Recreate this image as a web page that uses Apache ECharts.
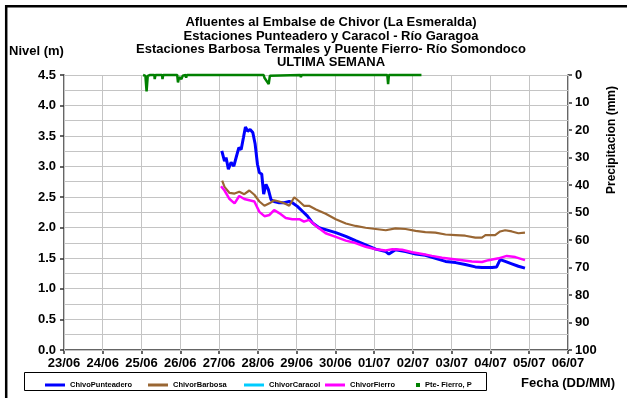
<!DOCTYPE html>
<html>
<head>
<meta charset="utf-8">
<script src="https://cdn.jsdelivr.net/npm/echarts@6/dist/echarts.min.js"></script>
<style>
  html, body { margin: 0; padding: 0; background: #fff; }
  #chart { width: 627px; height: 398px; }
</style>
</head>
<body>
<div id="chart"></div>
<script>
// Day labels along the time axis (x value = days since 23/06 00:00)
const dayLabels = ['23/06', '24/06', '25/06', '26/06', '27/06', '28/06', '29/06',
                   '30/06', '01/07', '02/07', '03/07', '04/07', '05/07', '06/07'];

// Nivel (m) per station, as [day, level]
const punteadero = [
  [4.07, 3.26], [4.14, 3.09], [4.18, 3.15], [4.24, 2.96], [4.31, 3.07], [4.38, 3.01],
  [4.44, 3.15], [4.51, 3.31], [4.57, 3.28], [4.63, 3.48], [4.68, 3.65], [4.74, 3.58],
  [4.80, 3.61], [4.87, 3.56], [4.93, 3.37], [4.99, 3.04], [5.04, 2.90], [5.10, 2.88],
  [5.15, 2.55], [5.21, 2.71], [5.27, 2.63], [5.34, 2.46], [5.42, 2.43], [5.55, 2.41],
  [5.68, 2.41], [5.81, 2.43], [5.89, 2.41], [6.02, 2.35], [6.15, 2.27], [6.28, 2.19],
  [6.41, 2.08], [6.58, 2.00], [6.75, 1.97], [7.01, 1.92], [7.27, 1.86], [7.52, 1.79],
  [7.78, 1.72], [8.04, 1.65], [8.30, 1.61], [8.38, 1.57], [8.55, 1.64], [8.81, 1.61],
  [9.07, 1.57], [9.32, 1.55], [9.58, 1.50], [9.84, 1.45], [10.10, 1.43], [10.35, 1.40],
  [10.61, 1.36], [10.78, 1.35], [11.04, 1.35], [11.16, 1.36], [11.25, 1.48], [11.38, 1.45],
  [11.55, 1.41], [11.72, 1.37], [11.89, 1.34]
];
const barbosa = [
  [4.08, 2.77], [4.14, 2.67], [4.27, 2.57], [4.40, 2.56], [4.52, 2.59], [4.65, 2.55],
  [4.78, 2.61], [4.91, 2.54], [5.04, 2.43], [5.17, 2.36], [5.30, 2.40], [5.42, 2.45],
  [5.55, 2.43], [5.68, 2.40], [5.81, 2.36], [5.94, 2.50], [6.07, 2.43], [6.19, 2.36],
  [6.32, 2.36], [6.50, 2.30], [6.75, 2.23], [7.01, 2.14], [7.27, 2.07], [7.52, 2.03],
  [7.78, 2.00], [8.04, 1.98], [8.30, 1.96], [8.55, 1.99], [8.81, 1.98], [9.07, 1.95],
  [9.32, 1.93], [9.58, 1.92], [9.84, 1.89], [10.10, 1.88], [10.35, 1.87], [10.61, 1.84],
  [10.78, 1.84], [10.87, 1.88], [11.12, 1.88], [11.25, 1.94], [11.38, 1.96], [11.55, 1.94],
  [11.72, 1.91], [11.89, 1.92]
];
const caracol = [];
const fierro = [
  [4.05, 2.68], [4.14, 2.61], [4.27, 2.47], [4.40, 2.40], [4.52, 2.52], [4.65, 2.47],
  [4.78, 2.45], [4.91, 2.43], [5.04, 2.26], [5.17, 2.19], [5.30, 2.21], [5.42, 2.29],
  [5.55, 2.24], [5.72, 2.16], [5.89, 2.14], [6.07, 2.14], [6.19, 2.10], [6.32, 2.13],
  [6.50, 2.03], [6.75, 1.91], [7.01, 1.85], [7.27, 1.79], [7.52, 1.75], [7.78, 1.69],
  [8.04, 1.65], [8.30, 1.63], [8.47, 1.65], [8.72, 1.64], [8.98, 1.60], [9.24, 1.57],
  [9.49, 1.54], [9.75, 1.51], [10.01, 1.49], [10.27, 1.47], [10.52, 1.45], [10.78, 1.44],
  [10.95, 1.47], [11.21, 1.50], [11.42, 1.54], [11.64, 1.52], [11.89, 1.47]
];

// Precipitación Puente Fierro (mm), as [day, mm]
const fierroPrecip = [
  [2.04, 0], [2.10, 0.3], [2.13, 6.0], [2.16, 0.3], [2.22, 0], [2.33, 0], [2.34, 1.5],
  [2.36, 0], [2.53, 0], [2.54, 1.5], [2.56, 0], [2.92, 0], [2.94, 2.7], [2.97, 0.8],
  [3.01, 0.5], [3.03, 1.5], [3.06, 0.3], [3.14, 0], [3.15, 1.0], [3.17, 0], [3.74, 0],
  [3.75, 0.5], [3.77, 0], [3.92, 0], [3.93, 0.5], [3.95, 0], [5.15, 0], [5.17, 1.0],
  [5.22, 0.3], [5.28, 3.3], [5.31, 0.3], [5.36, 0], [6.10, 0], [6.11, 0.8], [6.13, 0],
  [8.34, 0], [8.36, 3.3], [8.38, 0], [9.22, 0]
];

// Grid positions (level axis every 0.25 m, one line per day)
const levelGrid = [0, 0.25, 0.5, 0.75, 1, 1.25, 1.5, 1.75, 2, 2.25, 2.5, 2.75, 3, 3.25, 3.5, 3.75, 4, 4.25, 4.5];

const FONT = '"Liberation Sans", Arial, sans-serif';
const GRID_COLOR = '#c4c4c4';
const chart = echarts.init(document.getElementById('chart'), null, { renderer: 'canvas' });

const legendBase = {
  top: 376, itemWidth: 20, itemHeight: 3, itemGap: 4,
  textStyle: { fontFamily: FONT, fontSize: 7.5, fontWeight: 'bold', color: '#000' }
};

const decorations = [
  // outer frame (left and top edges)
  { type: 'polyline', silent: true, z: 50,
    shape: { points: [[6.2, 398], [6.2, 6.2], [627, 6.2]] },
    style: { fill: null, stroke: '#000', lineWidth: 2.5 } },
  // legend box
  { type: 'rect', shape: { x: 24.5, y: 372.5, width: 462, height: 18 }, silent: true, z: -1,
    style: { fill: 'transparent', stroke: '#000', lineWidth: 1 } },
  { type: 'text', left: 9, top: 45, silent: true,
    style: { text: 'Nivel (m)', font: 'bold 13px ' + FONT, fill: '#000' } },
  { type: 'text', x: 612, y: 140, rotation: Math.PI / 2, silent: true,
    style: { text: 'Precipitacion (mm)', font: 'bold 12px ' + FONT, fill: '#000',
             textAlign: 'center', textVerticalAlign: 'middle' } },
  { type: 'text', right: 12, top: 377, silent: true,
    style: { text: 'Fecha (DD/MM)', font: 'bold 13px ' + FONT, fill: '#000' } }
];

chart.setOption({
  animation: false,
  backgroundColor: '#fff',
  title: {
    text: 'Afluentes al Embalse de Chivor (La Esmeralda)\nEstaciones Punteadero y Caracol - Río Garagoa\n' +
          'Estaciones Barbosa Termales y Puente Fierro- Río Somondoco\nULTIMA SEMANA',
    left: 331, top: 16, textAlign: 'center', padding: 0,
    textStyle: { fontFamily: FONT, fontSize: 13, fontWeight: 'bold', color: '#000', lineHeight: 13.3 }
  },
  legend: [
    Object.assign({ left: 40, data: [{ name: 'ChivoPunteadero', icon: 'rect' }] }, legendBase),
    Object.assign({ left: 143, data: [{ name: 'ChivorBarbosa', icon: 'rect' }] }, legendBase),
    Object.assign({ left: 239, data: [{ name: 'ChivorCaracol', icon: 'rect' }] }, legendBase),
    Object.assign({ left: 320, data: [{ name: 'ChivorFierro', icon: 'rect' }] }, legendBase),
    Object.assign({}, legendBase, { left: 411, itemWidth: 4, itemHeight: 4, itemGap: 9,
      data: [{ name: 'Pte- Fierro, P', icon: 'rect' }] })
  ],
  grid: { left: 64, top: 75, right: 59, bottom: 48, containLabel: false },
  xAxis: {
    type: 'value', min: 0, max: 13, interval: 1,
    axisLine: { show: true, lineStyle: { color: '#333', width: 1.5 } },
    axisTick: { show: true, length: 4, lineStyle: { color: '#333', width: 1.5 } },
    axisLabel: {
      margin: 7, fontFamily: FONT, fontSize: 13, fontWeight: 'bold', color: '#000',
      formatter: v => dayLabels[Math.round(v)]
    },
    splitLine: { show: false }
  },
  yAxis: [
    {
      type: 'value', min: 0, max: 4.5, interval: 0.5,
      axisLine: { show: true, lineStyle: { color: '#333', width: 1.5 } },
      axisTick: { show: true, length: 4, lineStyle: { color: '#333', width: 1.5 } },
      axisLabel: {
        margin: 8, fontFamily: FONT, fontSize: 13, fontWeight: 'bold', color: '#000',
        formatter: v => v.toFixed(1)
      },
      splitLine: { show: false }
    },
    {
      type: 'value', min: 0, max: 100, interval: 10, inverse: true, position: 'right',
      axisLine: { show: true, lineStyle: { color: '#333', width: 1.5 } },
      axisTick: { show: true, length: 4, lineStyle: { color: '#333', width: 1.5 } },
      axisLabel: { margin: 7, fontFamily: FONT, fontSize: 13, fontWeight: 'bold', color: '#000' },
      splitLine: { show: false }
    }
  ],
  series: [
    { name: 'ChivoPunteadero', type: 'line', yAxisIndex: 0, data: punteadero, showSymbol: false,
      color: '#0000ff', lineStyle: { width: 3, color: '#0000ff' } },
    { name: 'ChivorBarbosa', type: 'line', yAxisIndex: 0, data: barbosa, showSymbol: false,
      color: '#996633', lineStyle: { width: 2.2, color: '#996633' } },
    { name: 'ChivorCaracol', type: 'line', yAxisIndex: 0, data: caracol, showSymbol: false,
      color: '#00ccff', lineStyle: { width: 2, color: '#00ccff' } },
    { name: 'ChivorFierro', type: 'line', yAxisIndex: 0, data: fierro, showSymbol: false,
      color: '#ff00ff', lineStyle: { width: 2.5, color: '#ff00ff' } },
    { name: 'Pte- Fierro, P', type: 'line', yAxisIndex: 1, data: fierroPrecip, showSymbol: false,
      clip: false, color: '#008000', lineStyle: { width: 2.5, color: '#008000' } }
  ],
  graphic: decorations
});

// Grid lines placed through the axes' own scales
const finder = { xAxisIndex: 0, yAxisIndex: 0 };
const crisp = p => Math.floor(p) + 0.5;
const gridLines = [];
dayLabels.forEach((_, d) => {
  const top = chart.convertToPixel(finder, [d, 4.5]);
  const bottom = chart.convertToPixel(finder, [d, 0]);
  gridLines.push({ type: 'line', silent: true, z: 1,
    shape: { x1: crisp(top[0]), y1: top[1], x2: crisp(bottom[0]), y2: bottom[1] },
    style: { stroke: GRID_COLOR, lineWidth: 1 } });
});
levelGrid.forEach(v => {
  const a = chart.convertToPixel(finder, [0, v]);
  const b = chart.convertToPixel(finder, [13, v]);
  gridLines.push({ type: 'line', silent: true, z: 1,
    shape: { x1: a[0], y1: crisp(a[1]), x2: b[0], y2: crisp(b[1]) },
    style: { stroke: GRID_COLOR, lineWidth: 1 } });
});
chart.setOption({ graphic: decorations.concat(gridLines) });
</script>
</body>
</html>
